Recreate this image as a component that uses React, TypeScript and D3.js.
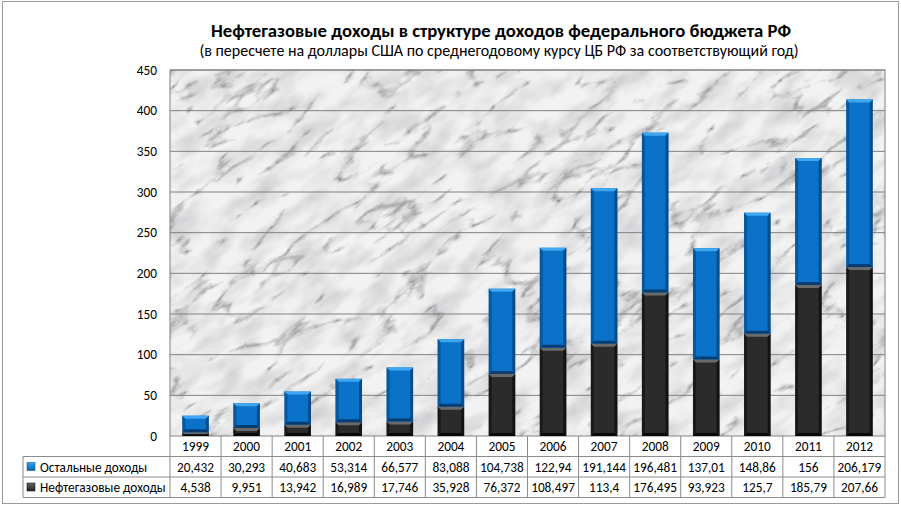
import React from 'react';
import * as d3 from 'd3';

const years = ['1999', '2000', '2001', '2002', '2003', '2004', '2005', '2006', '2007', '2008', '2009', '2010', '2011', '2012'];
const otherIncome = [20.432, 30.293, 40.683, 53.314, 66.577, 83.088, 104.738, 122.94, 191.144, 196.481, 137.01, 148.86, 156, 206.179];
const oilGasIncome = [4.538, 9.951, 13.942, 16.989, 17.746, 35.928, 76.372, 108.497, 113.4, 176.495, 93.923, 125.7, 185.79, 207.66];
const yTicks = [0, 50, 100, 150, 200, 250, 300, 350, 400, 450];

const otherLabel = 'Остальные доходы';
const oilLabel = 'Нефтегазовые доходы';

const W = 901;
const H = 506;
const plot = { left: 170, right: 885, top: 70, bottom: 436 };
const rowH = 20.5;
const tableLeft = 23;

const fmt = (v: number) => String(v).replace('.', ',');

// bevelled bar segment, like Excel's "relief" effect
function Bevel({ x, y, w, h, base, light, dark }: { x: number; y: number; w: number; h: number; base: string; light: string; dark: string }) {
  if (h <= 0) return null;
  const b = Math.min(3, h / 2);
  return (
    <g>
      <rect x={x} y={y} width={w} height={h} fill={base} />
      <polygon points={`${x},${y} ${x + w},${y} ${x + w - b},${y + b} ${x + b},${y + b}`} fill={light} />
      <polygon points={`${x},${y} ${x + b},${y + b} ${x + b},${y + h - b} ${x},${y + h}`} fill={dark} opacity={0.4} />
      <polygon points={`${x + w},${y} ${x + w - b},${y + b} ${x + w - b},${y + h - b} ${x + w},${y + h}`} fill={dark} opacity={0.55} />
      <polygon points={`${x},${y + h} ${x + b},${y + h - b} ${x + w - b},${y + h - b} ${x + w},${y + h}`} fill={dark} opacity={0.8} />
    </g>
  );
}

export default function App() {
  const x = d3.scaleBand<string>().domain(years).range([plot.left, plot.right]).paddingInner(0).paddingOuter(0);
  const y = d3.scaleLinear().domain([0, 450]).range([plot.bottom, plot.top]);
  const bw = x.bandwidth() * 0.52;

  const rows = years.map((yr, i) => ({ year: yr, oil: oilGasIncome[i], other: otherIncome[i] }));
  const stack = d3.stack<any>().keys(['oil', 'other'])(rows);

  const font = 'Calibri, Carlito, Lato, sans-serif';
  const small = 13.3;

  return (
    <div style={{ position: 'absolute', left: 0, top: 0 }}>
      <svg width={W} height={H} style={{ display: 'block', fontFamily: font }}>
        <defs>
          <filter id="marble" x="0" y="0" width="100%" height="100%">
            <feTurbulence type="turbulence" baseFrequency="0.012 0.035" numOctaves={5} seed={3} result="n" />
            <feColorMatrix in="n" type="matrix"
              values="0 0 0 0 0  0 0 0 0 0  0 0 0 0 0  -4.5 0 0 0 0.9" result="a" />
            <feFlood floodColor="#7c7c80" result="f" />
            <feComposite in="f" in2="a" operator="in" result="veins" />
            <feTurbulence type="fractalNoise" baseFrequency="0.025 0.05" numOctaves={3} seed={11} result="n2" />
            <feColorMatrix in="n2" type="matrix"
              values="0 0 0 0 0  0 0 0 0 0  0 0 0 0 0  -1.6 0 0 0 1.0" result="a2" />
            <feFlood floodColor="#c4c4c8" result="f2" />
            <feComposite in="f2" in2="a2" operator="in" result="cloud" />
            <feFlood floodColor="#f2f2f2" result="bg" />
            <feMerge>
              <feMergeNode in="bg" />
              <feMergeNode in="cloud" />
              <feMergeNode in="veins" />
            </feMerge>
          </filter>
          <clipPath id="plotClip">
            <rect x={plot.left} y={plot.top} width={plot.right - plot.left} height={plot.bottom - plot.top} />
          </clipPath>
          <linearGradient id="keyBlue" x1="0" y1="0" x2="0" y2="1">
            <stop offset="0" stopColor="#3aa0f0" />
            <stop offset="1" stopColor="#0064b4" />
          </linearGradient>
          <linearGradient id="keyDark" x1="0" y1="0" x2="0" y2="1">
            <stop offset="0" stopColor="#666" />
            <stop offset="1" stopColor="#222" />
          </linearGradient>
        </defs>

        <rect x={0} y={0} width={W} height={H} fill="#fff" />
        <rect x={2.5} y={1.5} width={W - 5} height={H - 4} fill="none" stroke="#9a9a9a" />

        <text x={501} y={37} textAnchor="middle" fontSize={18.7} fontWeight="bold" fill="#000">
          Нефтегазовые доходы в структуре доходов федерального бюджета РФ
        </text>
        <text x={499} y={56} textAnchor="middle" fontSize={16} fill="#000">
          (в пересчете на доллары США по  среднегодовому курсу ЦБ РФ за соответствующий год)
        </text>

        {/* marble plot background */}
        <g clipPath="url(#plotClip)">
          <g transform={`rotate(-35 ${(plot.left + plot.right) / 2} ${(plot.top + plot.bottom) / 2})`}>
            <rect x={plot.left - 200} y={plot.top - 300} width={plot.right - plot.left + 400} height={plot.bottom - plot.top + 600} filter="url(#marble)" />
          </g>
        </g>

        {yTicks.map(t => (
          <g key={t}>
            {t > 0 && <line x1={plot.left} x2={plot.right} y1={y(t)} y2={y(t)} stroke="#808080" strokeWidth={1} />}
            <text x={157} y={y(t) + 4.5} textAnchor="end" fontSize={small} fill="#000">{t}</text>
          </g>
        ))}
        <rect x={plot.left} y={plot.top} width={plot.right - plot.left} height={plot.bottom - plot.top} fill="none" stroke="#808080" />

        {stack.map(layer =>
          layer.map((d, i) => {
            const x0 = (x(years[i]) as number) + (x.bandwidth() - bw) / 2;
            const y0 = y(d[1]);
            const h = y(d[0]) - y(d[1]);
            const isOil = layer.key === 'oil';
            return (
              <Bevel key={layer.key + i} x={x0} y={y0} w={bw} h={h}
                base={isOil ? '#2b2b2b' : '#0a72c8'}
                light={isOil ? '#6a6a6a' : '#3fa6f2'}
                dark={isOil ? '#000' : '#03305c'} />
            );
          })
        )}

        {/* data table */}
        <g stroke="#8c8c8c" strokeWidth={1} fill="none">
          <line x1={tableLeft} x2={plot.right} y1={plot.bottom + rowH} y2={plot.bottom + rowH} />
          <line x1={tableLeft} x2={plot.right} y1={plot.bottom + rowH * 2} y2={plot.bottom + rowH * 2} />
          <line x1={tableLeft} x2={plot.right} y1={plot.bottom + rowH * 3} y2={plot.bottom + rowH * 3} />
          <line x1={tableLeft} x2={tableLeft} y1={plot.bottom + rowH} y2={plot.bottom + rowH * 3} />
          {years.map(yr => (
            <line key={yr} x1={x(yr)} x2={x(yr)} y1={plot.bottom} y2={plot.bottom + rowH * 3} />
          ))}
          <line x1={plot.right} x2={plot.right} y1={plot.bottom} y2={plot.bottom + rowH * 3} />
        </g>

        {years.map((yr, i) => {
          const cx = (x(yr) as number) + x.bandwidth() / 2;
          return (
            <g key={yr} fontSize={small} textAnchor="middle" fill="#000">
              <text x={cx} y={plot.bottom + 15}>{yr}</text>
              <text x={cx} y={plot.bottom + rowH + 15}>{fmt(otherIncome[i])}</text>
              <text x={cx} y={plot.bottom + rowH * 2 + 15}>{fmt(oilGasIncome[i])}</text>
            </g>
          );
        })}

        <rect x={27} y={plot.bottom + rowH + 6} width={8} height={8} fill="url(#keyBlue)" stroke="#0a4a80" strokeWidth={0.5} />
        <text x={40} y={plot.bottom + rowH + 15} fontSize={small} fill="#000">{otherLabel}</text>
        <rect x={27} y={plot.bottom + rowH * 2 + 6} width={8} height={8} fill="url(#keyDark)" stroke="#000" strokeWidth={0.5} />
        <text x={40} y={plot.bottom + rowH * 2 + 15} fontSize={small} fill="#000">{oilLabel}</text>
      </svg>
    </div>
  );
}
